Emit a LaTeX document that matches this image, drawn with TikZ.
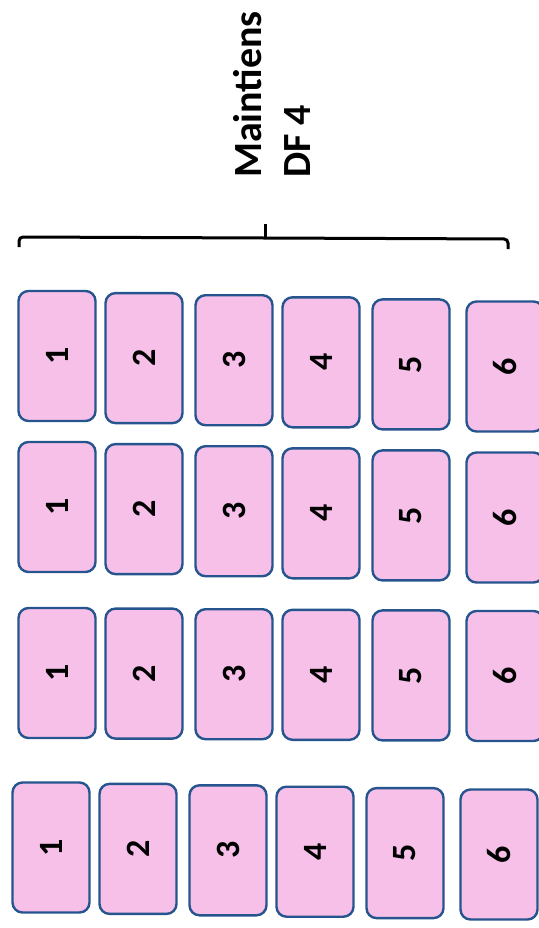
\documentclass[tikz,border=0pt]{standalone}
\usepackage{fontspec}
\setmainfont{Carlito}
\definecolor{cardpink}{RGB}{246,192,232}
\definecolor{cardedge}{RGB}{38,84,142}

\begin{document}
\begin{tikzpicture}[x=1pt,y=-1pt,
  card/.style={draw=cardedge,fill=cardpink,line width=2.4pt,rounded corners=10pt,
    rotate=90,minimum width=130pt,minimum height=77pt,inner sep=0pt,
    font=\fontsize{34}{40}\selectfont\bfseries}]
  \useasboundingbox (0,0) rectangle (538,928);

  % Heading, read from bottom to top.
  \node[rotate=90,anchor=south west,align=left,inner sep=0pt,
    font=\fontsize{40}{49}\selectfont\bfseries] (title) at (311,178) {Maintiens\\DF 4};

  % Bracket over the rows of cards.
  \draw[line width=3pt,rounded corners=4pt] (19,247) -- (19,237) -- (508,239) -- (508,249);
  \draw[line width=3pt] (265,238) -- (265,224);

  % Four rows of six cards; the scan is a little skewed.
  \foreach \g/\yc/\dx/\tilt in {1/356/0/2.1, 2/507/0/2.1, 3/673/0/0.6, 4/847.5/-6/1.4} {
    \foreach \c/\xc in {1/57, 2/144, 3/234, 4/321, 5/411, 6/505} {
      \node[card] (g\g c\c) at (\xc+\dx, \yc+\c*\tilt-\tilt) {\c};
    }
  }
\end{tikzpicture}
\end{document}
